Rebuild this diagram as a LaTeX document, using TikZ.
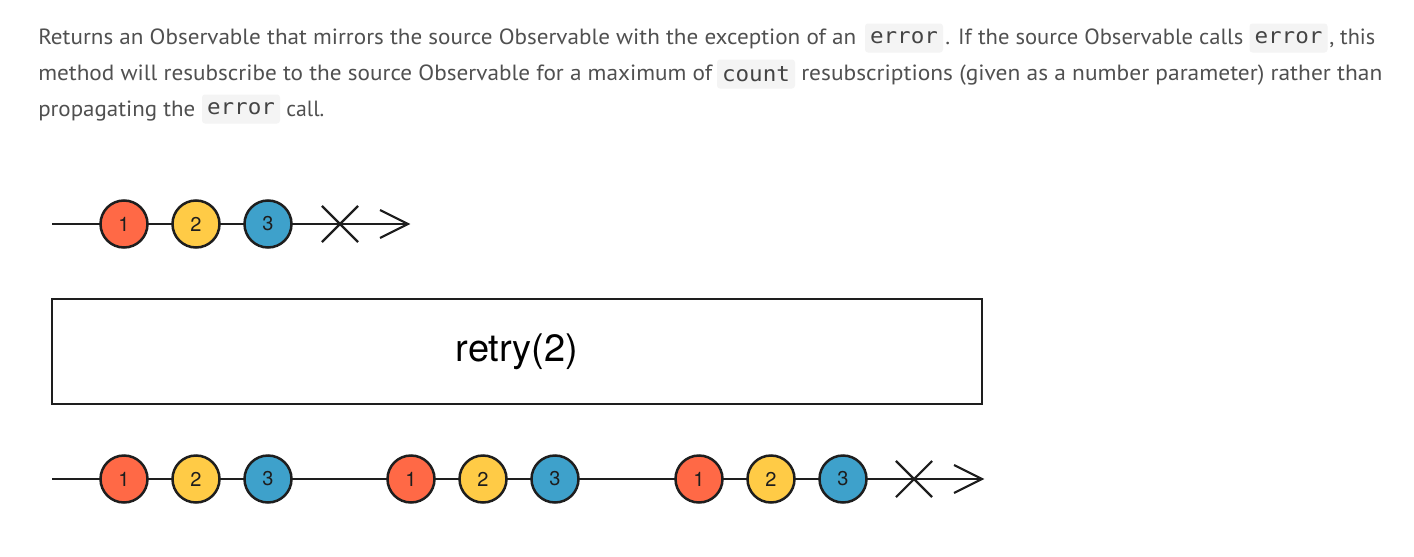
\documentclass[tikz,border=0pt]{standalone}
\usepackage{graphicx}
\usepackage{fontspec}
\setmainfont{PT Sans}
\newfontfamily\helvf{TeX Gyre Heros}
\newfontfamily\codef{DejaVu Sans Mono}
\usetikzlibrary{shapes.misc}
\newlength\pxu
\setlength\pxu{0.75pt}
\definecolor{textgray}{HTML}{505050}
\definecolor{codebg}{HTML}{F4F4F4}
\definecolor{codetext}{HTML}{444444}
\definecolor{mred}{HTML}{FF6946}
\definecolor{myellow}{HTML}{FFCB46}
\definecolor{mblue}{HTML}{3EA1CB}
\definecolor{ink}{HTML}{1E1E1E}
\newcommand\fitw[2]{\resizebox{#1\pxu}{\height}{#2}}
\begin{document}
\begin{tikzpicture}[x=0.75pt,y=-0.75pt,
  txt/.style={anchor=base west, inner sep=0pt, text=textgray, font=\fontsize{16.5}{19}\selectfont},
  codebox/.style={fill=codebg, rounded corners=2.25pt, minimum width=58.5pt, minimum height=21.75pt, inner sep=0pt, text=codetext, font=\codef\fontsize{16}{18}\selectfont},
  tline/.style={draw=ink, line width=1.6pt},
  marble/.style={circle, draw=ink, line width=1.875pt, minimum size=35.25pt, inner sep=0pt, text=ink, font=\helvf\fontsize{15}{16}\selectfont},
  mr/.style={marble, fill=mred},
  my/.style={marble, fill=myellow},
  mb/.style={marble, fill=mblue},
  errx/.style={cross out, draw=ink, line width=1.6pt, minimum size=25.5pt, inner sep=0pt},
  opbox/.style={draw=ink, line width=1.875pt, minimum width=697.5pt, minimum height=78.75pt, inner sep=0pt, font=\helvf\fontsize{28.5}{32}\selectfont, text=black}
]
\useasboundingbox[fill=white] (0,0) rectangle (1414,557);

% paragraph
\node[txt] (l1a) at (38,44) {\fitw{818}{Returns an Observable that mirrors the source Observable with the exception of an}};
\node[codebox] (c1) at (904,38) {\fitw{68}{error}};
\node[txt] (l1b) at (945,44) {\fitw{298}{. If the source Observable calls}};
\node[codebox] (c2) at (1288.5,38) {\fitw{68}{error}};
\node[txt] (l1c) at (1329,44) {\fitw{46}{, this}};

\node[txt] (l2a) at (38,80) {\fitw{674}{method will resubscribe to the source Observable for a maximum of}};
\node[codebox] (c3) at (756,74) {\fitw{68}{count}};
\node[txt] (l2b) at (801,80) {\fitw{581}{resubscriptions (given as a number parameter) rather than}};

\node[txt] (l3a) at (38,116) {\fitw{157}{propagating the}};
\node[codebox] (c4) at (241,109) {\fitw{68}{error}};
\node[txt] (l3b) at (286,116) {\fitw{38}{call.}};

% top timeline
\coordinate (s0) at (52,224);
\coordinate (s1) at (408,224);
\draw[tline] (s0) -- (s1);
\draw[tline] (s1) ++(-28,-14) -- (s1) -- ++(-28,14);
\node[mr] (a1) at (124,224) {1};
\node[my] (a2) at (196,224) {2};
\node[mb] (a3) at (268,224) {3};
\node[errx] (ax) at (340,224) {};

% operator box
\node[opbox] (op) at (517,351.5) {retry(2)};

% bottom timeline
\coordinate (r0) at (52,479);
\coordinate (r1) at (982,479);
\draw[tline] (r0) -- (r1);
\draw[tline] (r1) ++(-28,-14) -- (r1) -- ++(-28,14);
\node[mr] (b1) at (124,479) {1};
\node[my] (b2) at (196,479) {2};
\node[mb] (b3) at (268,479) {3};
\node[mr] (b4) at (411,479) {1};
\node[my] (b5) at (483,479) {2};
\node[mb] (b6) at (555,479) {3};
\node[mr] (b7) at (699,479) {1};
\node[my] (b8) at (771,479) {2};
\node[mb] (b9) at (843,479) {3};
\node[errx] (bx) at (914,479) {};
\end{tikzpicture}
\end{document}
